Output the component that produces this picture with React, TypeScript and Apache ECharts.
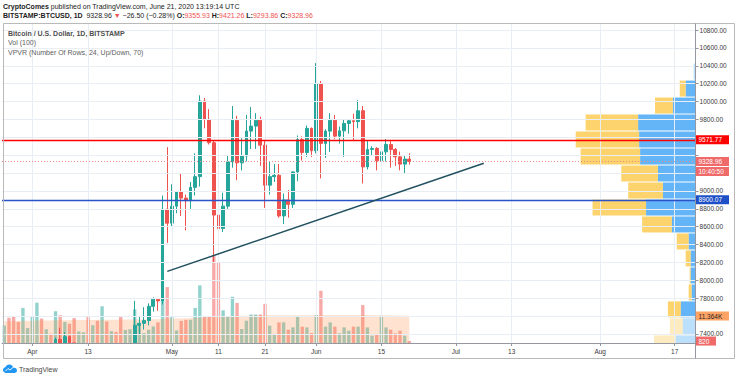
import React, { useEffect, useRef } from 'react';
import * as echarts from 'echarts';

// ---------- categories (one per day) ----------
const START_UTC = Date.UTC(2020, 2, 26);
const DAYS_SHOWN = 149;
const categories: string[] = Array.from({ length: DAYS_SHOWN }, (_, i) =>
  new Date(START_UTC + i * 86400000).toISOString().slice(0, 10)
);
const MONTHS = ['Jan', 'Feb', 'Mar', 'Apr', 'May', 'Jun', 'Jul', 'Aug', 'Sep', 'Oct', 'Nov', 'Dec'];
const timeTickDates = [
  '2020-04-01', '2020-04-13', '2020-05-01', '2020-05-11', '2020-05-21', '2020-06-01',
  '2020-06-15', '2020-07-01', '2020-07-13', '2020-08-01', '2020-08-17',
];

// ---------- price scale ticks ----------
const priceTicks = [7400, 7600, 7800, 8000, 8200, 8400, 8600, 8800, 9000, 9200, 9400, 9600, 9800, 10000, 10200, 10400, 10600, 10800];
const hiddenPriceTicks = [7600, 9200, 9400, 9600];

// ---------- daily candles [open, close, low, high], Mar 26 .. Jun 21 ----------
const candles: number[][] = [
  [6745, 6760, 6530, 6790], [6760, 6370, 6260, 6850], [6370, 6240, 6030, 6390], [6240, 5880, 5870, 6260],
  [5880, 6400, 5860, 6600], [6400, 6420, 6330, 6520],
  [6420, 6640, 6160, 6680], [6640, 6800, 6570, 7200], [6800, 6740, 6610, 7040], [6740, 6860, 6670, 6980],
  [6860, 6780, 6680, 6880], [6780, 7340, 6770, 7360], [7340, 7200, 7100, 7470], [7200, 7370, 7150, 7420],
  [7370, 7300, 7120, 7380], [7300, 6870, 6750, 7300], [6870, 6890, 6780, 6950], [6890, 6910, 6800, 7180],
  [6910, 6860, 6560, 6920], [6860, 6870, 6780, 6990], [6870, 6630, 6620, 6940], [6630, 7120, 6470, 7170],
  [7120, 7040, 6990, 7150], [7040, 7250, 7030, 7290], [7250, 7130, 7080, 7260], [7130, 6850, 6790, 7220],
  [6850, 6860, 6810, 6940], [6860, 7120, 6850, 7150], [7120, 7497, 7010, 7770], [7497, 7519, 7400, 7590],
  [7519, 7550, 7450, 7700], [7550, 7710, 7497, 7743], [7710, 7790, 7650, 7810], [7790, 7770, 7660, 7790],
  [7770, 8795, 7730, 8950], [8795, 8640, 8420, 9490],
  [8640, 8830, 8600, 9075], [8830, 8990, 8750, 9000], [8990, 8920, 8720, 9190], [8920, 8890, 8560, 8960],
  [8890, 9040, 8800, 9100], [9040, 9160, 8950, 9420], [9160, 10005, 9050, 10070], [10005, 9800, 9700, 10040],
  [9800, 9540, 9520, 9915], [9540, 8730, 8200, 9570], [8730, 8580, 8220, 9190], [8580, 8830, 8540, 8980],
  [8830, 9325, 8800, 9390], [9325, 9792, 9260, 9950], [9792, 9314, 9120, 9840], [9314, 9390, 9230, 9590],
  [9390, 9669, 9330, 9850], [9669, 9725, 9470, 9940], [9725, 9792, 9470, 9870], [9792, 9512, 9280, 9830],
  [9512, 9064, 8810, 9570], [9064, 9160, 8960, 9325], [9160, 9175, 9100, 9300], [9175, 8720, 8700, 9300],
  [8720, 8900, 8630, 8970], [8900, 8850, 8700, 9010], [8850, 9213, 8810, 9220], [9213, 9575, 9110, 9620],
  [9575, 9430, 9340, 9610], [9430, 9700, 9380, 9730], [9700, 9450, 9380, 9710],
  [9450, 10203, 9420, 10430], [10203, 9531, 9140, 10230], [9531, 9669, 9370, 9690], [9669, 9792, 9437, 9870],
  [9792, 9613, 9580, 9850], [9613, 9672, 9530, 9720], [9672, 9755, 9380, 9800], [9755, 9785, 9640, 9800],
  [9785, 9775, 9570, 9864], [9775, 9897, 9700, 10016], [9897, 9269, 9083, 9950], [9269, 9464, 9240, 9560],
  [9464, 9475, 9390, 9500], [9475, 9337, 9230, 9490], [9337, 9437, 8915, 9530], [9437, 9520, 9330, 9580],
  [9520, 9464, 9260, 9560], [9464, 9381, 9280, 9480], [9381, 9300, 9230, 9440], [9300, 9355.93, 9200, 9400],
  [9355.93, 9328.96, 9293.86, 9421.26],
];

// ---------- daily volume (thousand BTC) ----------
const volumesK = [
  7.4, 10.7, 11.4, 8.9, 14.8, 6.3,
  11.3, 17.0, 10.3, 5.8, 3.9, 13.4, 11.7, 8.9, 8.1, 10.5, 4.9, 4.5, 11.0, 7.5, 9.4, 15.5, 9.1, 5.0, 4.7,
  11.0, 5.5, 5.8, 14.2, 8.2, 4.2, 5.6, 7.0, 8.7, 19.5, 23.6,
  11.3, 5.3, 9.3, 9.8, 9.8, 14.8, 24.3, 11.3, 11.3, 37.0, 34.0, 13.8, 11.0, 19.5, 16.9, 5.9, 9.4, 12.0,
  12.0, 12.0, 16.5, 7.3, 3.8, 8.7, 8.7, 5.6, 6.6, 11.2, 6.9, 6.6, 4.2,
  11.8, 22.0, 6.9, 8.7, 6.9, 4.1, 6.6, 5.2, 6.9, 6.9, 16.0, 6.6, 3.1, 3.8, 11.5, 6.6, 5.6, 4.1, 5.2, 3.1, 0.82,
];
// ---------- volume moving average (100), thousand BTC ----------
const volumeMAK = [
  9.2, 9.2, 9.3, 9.3, 9.4, 9.4, 9.4, 9.5, 9.5, 9.5,
  9.5, 9.6, 9.6, 9.6, 9.6, 9.7, 9.7, 9.7, 9.7, 9.7,
  9.8, 9.8, 9.8, 9.8, 9.8, 9.9, 9.9, 9.9, 9.9, 9.9,
  9.9, 10.0, 10.0, 10.0, 10.1, 10.2,
  10.3, 10.3, 10.4, 10.4, 10.5, 10.6, 10.7, 10.8, 10.9, 11.1,
  11.2, 11.3, 11.3, 11.4, 11.5, 11.5, 11.5, 11.6, 11.6, 11.6,
  11.7, 11.7, 11.7, 11.7, 11.7, 11.7, 11.7, 11.7, 11.7, 11.7, 11.7,
  11.7, 11.8, 11.8, 11.8, 11.8, 11.8, 11.8, 11.8, 11.8, 11.8,
  11.8, 11.8, 11.7, 11.7, 11.7, 11.7, 11.7, 11.6, 11.6, 11.6, 11.364,
];

// ---------- volume profile rows [low, high, upVolume, downVolume, inValueArea] ----------
const vpvrRows: number[][] = [
  [10240, 10430, 2, 0, 0], [10050, 10240, 10, 6, 1], [9860, 10050, 23, 18, 1], [9670, 9860, 58, 53, 1],
  [9480, 9670, 57, 64, 1], [9290, 9480, 56, 60, 1], [9100, 9290, 38, 37, 1], [8910, 9100, 33, 35, 1],
  [8720, 8910, 50, 54, 1], [8530, 8720, 24, 30, 1], [8340, 8530, 7, 12, 1], [8150, 8340, 5, 5, 1],
  [7960, 8150, 5, 1, 1], [7770, 7960, 4, 3, 1], [7580, 7770, 15, 13, 1], [7390, 7580, 13, 13, 0],
  [7200, 7390, 20, 22, 0], [7010, 7200, 30, 28, 0], [6820, 7010, 45, 40, 0], [6630, 6820, 40, 35, 0],
  [6440, 6630, 35, 38, 0], [6250, 6440, 30, 30, 0], [6060, 6250, 25, 30, 0], [5870, 6060, 15, 20, 0],
];

// ---------- drawn levels ----------
const trendLine: [string, number][] = [['2020-04-30', 8100], ['2020-07-07', 9310]];
const resistanceLevel = 9571.77;
const supportLevel = 8900.07;
const lastPrice = 9328.96;
const countdownText = '10:40:50';
const lastVolume = 820;
const volumeMAValue = 11364;

// ---------- view ----------
const PRICE_MIN = 7299.3;
const PRICE_MAX = 10878.3;
const VOL_AXIS_MAX = 135;
const VPVR_AXIS_MAX = 700;

const FONT = '"Liberation Sans", Arial, sans-serif';
const UP = '#26a69a';
const DOWN = '#ef5350';

export default function App() {
  const ref = useRef<HTMLDivElement>(null);

  useEffect(() => {
    document.body.style.margin = '0';
    if (!ref.current) return;
    const chart = echarts.init(ref.current, undefined, { renderer: 'svg' });

    const isTick = (_i: number, v: string) => timeTickDates.includes(v);
    const fmtDate = (v: string) => {
      const d = new Date(v + 'T00:00:00Z');
      return d.getUTCDate() === 1 ? MONTHS[d.getUTCMonth()] : String(d.getUTCDate());
    };

    const volData = volumesK.map((v, i) => ({
      value: v,
      itemStyle: { color: candles[i][1] >= candles[i][0] ? 'rgba(38,166,154,0.5)' : 'rgba(239,83,80,0.5)' },
    }));

    const option: any = {
      animation: false,
      grid: { left: 2, right: 40.4, top: 23, bottom: 36, outerBoundsMode: 'none' },
      xAxis: [
        {
          type: 'category', data: categories, boundaryGap: true, z: 10,
          axisLine: { lineStyle: { color: '#9598a1', width: 1 } },
          axisTick: { show: true, alignWithLabel: true, interval: isTick, length: 3, lineStyle: { color: '#9598a1' } },
          axisLabel: { interval: isTick, formatter: fmtDate, color: '#3a3a3a', fontSize: 6.5, fontFamily: FONT, margin: 5 },
          splitLine: { show: false },
        },
        { type: 'value', inverse: true, min: 0, max: VPVR_AXIS_MAX, show: false },
      ],
      yAxis: [
        {
          type: 'value', position: 'right', min: PRICE_MIN, max: PRICE_MAX, scale: true, z: 10,
          axisLine: { show: false },
          axisTick: { show: true, length: 3, customValues: priceTicks, lineStyle: { color: '#9598a1' } },
          axisLabel: {
            customValues: priceTicks, margin: 4, color: '#3a3a3a', fontSize: 6.5, fontFamily: FONT,
            formatter: (v: number) => (hiddenPriceTicks.includes(Math.round(v)) ? '' : v.toFixed(2)),
          },
          splitLine: { show: false },
        },
        { type: 'value', min: 0, max: VOL_AXIS_MAX, show: false },
      ],
      series: [
        {
          name: 'grid', type: 'line', data: [], z: 0, silent: true,
          markLine: {
            silent: true, symbol: ['none', 'none'], label: { show: false },
            lineStyle: { color: '#e8eef4', width: 1, type: 'solid' },
            data: [
              ...timeTickDates.map((d) => ({ xAxis: d })),
              ...priceTicks.map((p) => ({ yAxis: p })),
            ],
          },
        },
        {
          name: 'VPVR', type: 'custom', xAxisIndex: 1, yAxisIndex: 0, clip: true, z: 1, silent: true,
          data: vpvrRows,
          encode: { x: [2, 3], y: [0, 1] },
          renderItem: (_p: any, api: any) => {
            const lo = api.value(0), hi = api.value(1), up = api.value(2), dn = api.value(3), va = api.value(4);
            const a = api.coord([0, hi]);
            const b = api.coord([up, lo]);
            const c = api.coord([up + dn, lo]);
            const top = a[1] + 0.5;
            const h = b[1] - a[1] - 1;
            return {
              type: 'group',
              children: [
                { type: 'rect', shape: { x: b[0], y: top, width: a[0] - b[0], height: h },
                  style: { fill: va ? 'rgba(33,150,243,0.7)' : 'rgba(33,150,243,0.3)' } },
                { type: 'rect', shape: { x: c[0], y: top, width: b[0] - c[0], height: h },
                  style: { fill: va ? 'rgba(251,192,45,0.7)' : 'rgba(251,192,45,0.3)' } },
              ],
            };
          },
        },
        {
          name: 'Volume', type: 'bar', xAxisIndex: 0, yAxisIndex: 1, data: volData, barWidth: '72%', z: 2, silent: true,
        },
        {
          name: 'Vol MA', type: 'line', xAxisIndex: 0, yAxisIndex: 1, data: volumeMAK, symbol: 'none', z: 3, silent: true,
          lineStyle: { width: 0 }, areaStyle: { color: 'rgba(255,138,60,0.35)', origin: 'start' },
        },
        {
          name: 'BTCUSD', type: 'candlestick', xAxisIndex: 0, yAxisIndex: 0, data: candles, barWidth: '70%', z: 4, silent: true,
          clip: true,
          itemStyle: { color: UP, color0: DOWN, borderColor: UP, borderColor0: DOWN, borderWidth: 1 },
        },
        {
          name: 'levels', type: 'line', data: [], z: 5, silent: true,
          markLine: {
            silent: true, symbol: ['none', 'none'], label: { show: false },
            data: [
              { yAxis: resistanceLevel, lineStyle: { color: '#ff0000', width: 1.3, type: 'solid' } },
              { yAxis: supportLevel, lineStyle: { color: '#2a52c9', width: 1.3, type: 'solid' } },
              { yAxis: lastPrice, lineStyle: { color: '#f08a8a', width: 1, type: [1, 2] } },
            ],
          },
        },
        {
          name: 'trend', type: 'line', data: trendLine, symbol: 'none', z: 6, silent: true,
          lineStyle: { color: '#21505f', width: 1.5 },
        },
      ],
    };
    chart.setOption(option);

    const py = (v: number) => chart.convertToPixel({ yAxisIndex: 0 }, v) as number;
    const vy = (v: number) => chart.convertToPixel({ yAxisIndex: 1 }, v / 1000) as number;
    const tag = (y: number, text: string, bg: string, fg: string, w: number) => [
      { type: 'rect', z: 100, shape: { x: 696, y: y - 4.5, width: w, height: 9 }, style: { fill: bg } },
      { type: 'text', z: 101, x: 698.5, y, style: { text, fill: fg, fontSize: 6.5, fontFamily: FONT, verticalAlign: 'middle' } },
    ];
    const yLast = py(lastPrice);

    echarts.graphic.registerShape('tvCloud', echarts.graphic.extendPath(
      'M4 12C1.8 12 0 10.2 0 8C0 6 1.5 4.3 3.4 4.05C4.2 1.7 6.4 0 9 0C11.9 0 14.3 2.1 14.8 4.9C15.2 4.8 15.6 4.7 16 4.7C18.2 4.7 20 6.5 20 8.7C20 10.5 18.6 12 16.8 12Z', {}
    ) as any);

    chart.setOption({
      graphic: [
        // mask for candle parts outside the plot (axis has higher z)
        { type: 'rect', z: 5, silent: true, shape: { x: 0, y: 343.5, width: 736, height: 36 }, style: { fill: '#ffffff' } },
        // frame
        { type: 'rect', z: 90, shape: { x: 3.5, y: 23.5, width: 731, height: 335 }, style: { fill: 'none', stroke: '#b9b9b9', lineWidth: 1 } },
        { type: 'line', z: 90, shape: { x1: 695.5, y1: 23.5, x2: 695.5, y2: 358.5 }, style: { stroke: '#9598a1', lineWidth: 1 } },
        // header
        {
          type: 'text', x: 3, y: 6, z: 100,
          style: {
            text: '{b|CryptoComes} published on TradingView.com, June 21, 2020 13:19:14 UTC',
            fontSize: 7, fontFamily: FONT, fill: '#222', verticalAlign: 'middle',
            rich: { b: { fontWeight: 'bold', fontSize: 7, fontFamily: FONT, fill: '#222' } },
          },
        },
        {
          type: 'text', x: 3, y: 15.5, z: 100,
          style: {
            text: '{b|BITSTAMP:BTCUSD, 1D}  9328.96 {r|▼} −26.50 (−0.28%) {b|O:}{r|9355.93} {b|H:}{r|9421.26} {b|L:}{r|9293.86} {b|C:}{r|9328.96}',
            fontSize: 7, fontFamily: FONT, fill: '#222', verticalAlign: 'middle',
            rich: {
              b: { fontWeight: 'bold', fontSize: 7, fontFamily: FONT, fill: '#222' },
              r: { fontSize: 7, fontFamily: FONT, fill: '#ef5350' },
            },
          },
        },
        // legend
        { type: 'text', x: 8, y: 33, z: 100, style: { text: 'Bitcoin / U.S. Dollar, 1D, BITSTAMP', fontSize: 7, fontWeight: 'bold', fontFamily: FONT, fill: '#505050', verticalAlign: 'middle' } },
        { type: 'text', x: 8, y: 42.5, z: 100, style: { text: 'Vol (100)', fontSize: 7, fontFamily: FONT, fill: '#606060', verticalAlign: 'middle' } },
        { type: 'text', x: 8, y: 52, z: 100, style: { text: 'VPVR (Number Of Rows, 24, Up/Down, 70)', fontSize: 7, fontFamily: FONT, fill: '#606060', verticalAlign: 'middle' } },
        // price scale tags
        ...tag(py(resistanceLevel), resistanceLevel.toFixed(2), '#ff0000', '#ffffff', 33),
        ...tag(yLast, lastPrice.toFixed(2), '#f06a6a', '#ffffff', 33),
        ...tag(yLast + 10, countdownText, '#f06a6a', '#ffffff', 33),
        ...tag(py(supportLevel), supportLevel.toFixed(2), '#1d4fc7', '#ffffff', 33),
        ...tag(vy(volumeMAValue), (volumeMAValue / 1000).toFixed(3) + 'K', '#ffa466', '#222222', 33),
        ...tag(vy(lastVolume), String(lastVolume), '#f06a6a', '#ffffff', 20),
        // TradingView logo
        { type: 'tvCloud', x: 3, y: 364.5, scaleX: 0.7, scaleY: 0.7, z: 100, style: { fill: '#2196f3' } },
        { type: 'polyline', z: 101, shape: { points: [[5.5, 371], [8, 368.5], [10, 370], [13.5, 367]] }, style: { stroke: '#ffffff', lineWidth: 0.9, fill: 'none' } },
        { type: 'text', x: 19, y: 369, z: 100, style: { text: 'TradingView', fontSize: 7, fontFamily: FONT, fill: '#444', verticalAlign: 'middle' } },
      ],
    });

    return () => chart.dispose();
  }, []);

  return <div ref={ref} style={{ width: 736, height: 379 }} />;
}
